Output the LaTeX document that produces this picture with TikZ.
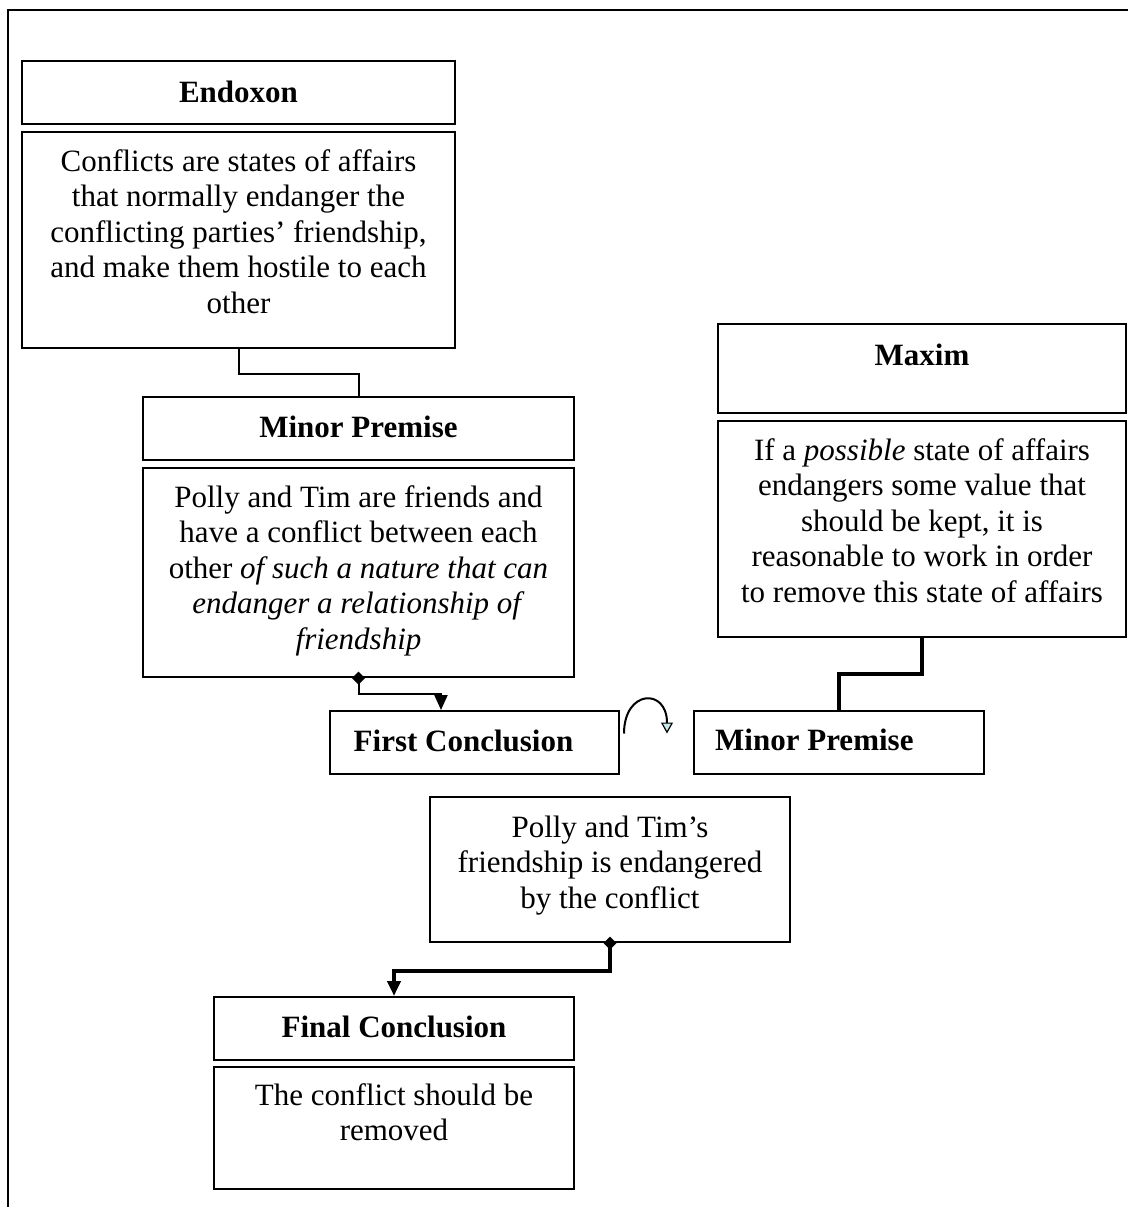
\documentclass[tikz,border=0pt]{standalone}
\usepackage{fontspec}
\setmainfont{Liberation Serif}
\usetikzlibrary{arrows.meta,calc}
\definecolor{tipblue}{RGB}{200,232,238}
\tikzset{
  dia/.tip={Diamond[length=13pt,width=13pt]},
  tri/.tip={Triangle[length=15pt,width=13pt]}}
\begin{document}
\begin{tikzpicture}[x=1pt,y=-1pt,
  box/.style={draw, line width=2pt, inner sep=0pt, anchor=north west},
  txt/.style={anchor=north, align=center, inner sep=0pt,
    font=\fontsize{31}{35.5}\selectfont},
  head/.style={txt, font=\fontsize{31}{35.5}\selectfont\bfseries},
  link/.style={line width=2pt},
  boldlink/.style={line width=4.5pt}]
\useasboundingbox (0,0) rectangle (1128,1207);

% outer frame (left and top sides)
\draw[line width=2.5pt] (8,1207) -- (8,10) -- (1128,10);

% boxes
\node[box, minimum width=433pt, minimum height=63pt]  (endhead) at (21,60) {};
\node[box, minimum width=433pt, minimum height=216pt] (endbody) at (21,131) {};
\node[box, minimum width=431pt, minimum height=63pt]  (minhead) at (142,396) {};
\node[box, minimum width=431pt, minimum height=209pt] (minbody) at (142,467) {};
\node[box, minimum width=289pt, minimum height=63pt]  (fc)      at (329,710) {};
\node[box, minimum width=408pt, minimum height=89pt]  (maxhead) at (717,323) {};
\node[box, minimum width=408pt, minimum height=216pt] (maxbody) at (717,420) {};
\node[box, minimum width=290pt, minimum height=63pt]  (mpr)     at (693,710) {};
\node[box, minimum width=360pt, minimum height=145pt] (polly)   at (429,796) {};
\node[box, minimum width=360pt, minimum height=63pt]  (finhead) at (213,996) {};
\node[box, minimum width=360pt, minimum height=122pt] (finbody) at (213,1066) {};

% texts
\node[head] (endheadtext) at ($(endhead.north)+(0,17)$) {\strut Endoxon};
\node[txt] (endbodytext) at ($(endbody.north)+(0,15)$)
  {\strut Conflicts are states of affairs\\that normally endanger the\\conflicting parties’ friendship,\\and make them hostile to each\\other};
\node[head] (minheadtext) at ($(minhead.north)+(0,16)$) {\strut Minor Premise};
\node[txt] (minbodytext) at ($(minbody.north)+(0,15)$)
  {\strut Polly and Tim are friends and\\have a conflict between each\\other \textit{of such a nature that can}\\\textit{endanger a relationship of}\\\textit{friendship}};
\node[head] (fctext) at ($(fc.north)+(-11,16)$) {\strut First Conclusion};
\node[head] (maxheadtext) at ($(maxhead.north)+(0,17)$) {\strut Maxim};
\node[txt] (maxbodytext) at ($(maxbody.north)+(0,15)$)
  {\strut If a \textit{possible} state of affairs\\endangers some value that\\should be kept, it is\\reasonable to work in order\\to remove this state of affairs};
\node[head, anchor=north west] (mprtext) at ($(mpr.north west)+(22,15)$) {\strut Minor Premise};
\node[txt] (pollytext) at ($(polly.north)+(0,16)$)
  {\strut Polly and Tim’s\\friendship is endangered\\by the conflict};
\node[head] (finheadtext) at ($(finhead.north)+(0,16)$) {\strut Final Conclusion};
\node[txt] (finbodytext) at ($(finbody.north)+(0,14)$)
  {\strut The conflict should be\\removed};

% connectors
\draw[link] (endbody.south) -- ++(0,25) -| (minhead.north);
\draw[link, dia-tri] ($(minbody.south)+(0,-6.5)$) -- ++(0,22.5)
  -| ($(fc.north west)+(112,0)$);
\draw[line width=2pt, -{Triangle[length=11pt,width=12pt,fill=tipblue,line width=1.2pt]}]
  ($(fc.east)+(4,-9)$) .. controls +(0,-44) and +(0,-46) .. ($(mpr.west)+(-26,-9)$);
\draw[boldlink] (maxbody.south) -- ++(0,36) -| (mpr.north);
\draw[boldlink, dia-tri] ($(polly.south)+(0,-6.5)$) -- ++(0,34.5)
  -| (finhead.north);
\end{tikzpicture}
\end{document}
